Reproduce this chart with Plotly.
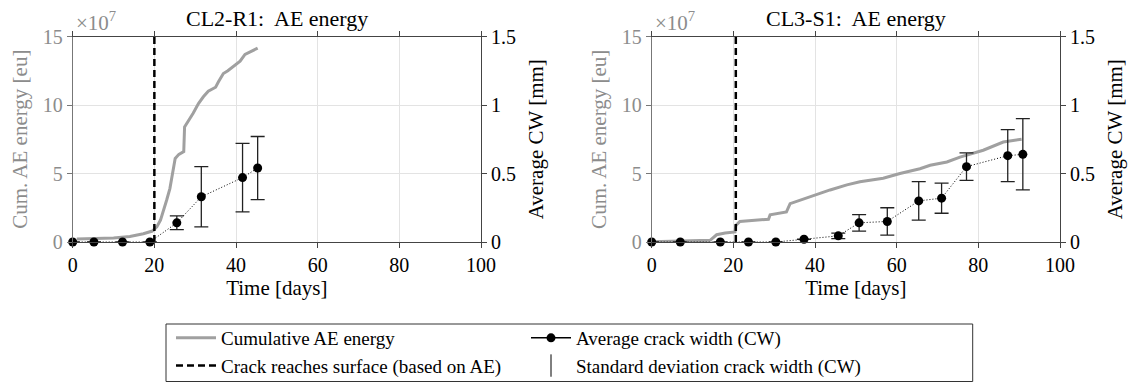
import plotly.graph_objects as go

# ---------------- data ----------------
# CL2-R1 (left)
ae_days_L = [1.0, 5, 10, 14, 17.3, 19.5, 20.6, 21.5, 22.3, 23.0, 23.8, 24.5, 25.1, 26.0, 27.2, 27.4,
             28.3, 29.5, 30.8, 32.0, 33.2, 34.4, 35.0, 35.7, 36.9, 38.0, 38.9, 41.0, 42.2, 43.5, 45.3]
ae_energy_L = [0.22, 0.25, 0.3, 0.4, 0.6, 0.8, 1.1, 1.6, 2.3, 3.05, 3.9, 5.0, 6.1, 6.4, 6.6, 8.4,
               8.8, 9.4, 10.1, 10.6, 11.0, 11.2, 11.3, 11.7, 12.3, 12.5, 12.7, 13.2, 13.7, 13.9, 14.15]  # x 1e7 eu
cw_days_L = [0, 5.2, 12.2, 18.9, 25.5, 31.5, 41.6, 45.3]
cw_mean_L = [0, 0, 0, 0, 0.14, 0.33, 0.47, 0.54]
cw_std_L = [None, None, None, None, 0.05, 0.22, 0.25, 0.23]
crack_day_L = 20.0

# CL3-S1 (right)
ae_days_R = [0, 5, 10, 14.3, 15.9, 18, 20.4, 20.6, 21.6, 24.9, 28.6, 29.0, 31.8, 33.0, 33.9, 36.3,
             39.6, 43.7, 47.8, 51.0, 56.7, 60.8, 65.7, 68.2, 72.3, 75.5, 81.2, 86.1, 90.6]
ae_energy_R = [0.02, 0.04, 0.07, 0.12, 0.53, 0.65, 0.73, 1.2, 1.5, 1.6, 1.66, 1.98, 2.1, 2.2, 2.8, 3.05,
               3.4, 3.8, 4.17, 4.4, 4.65, 5.0, 5.35, 5.6, 5.84, 6.2, 6.7, 7.3, 7.5]
cw_days_R = [0, 7.0, 16.8, 23.7, 30.4, 37.3, 45.7, 50.8, 57.7, 65.4, 71.0, 77.1, 87.2, 90.9]
cw_mean_R = [0, 0, 0, 0, 0, 0.02, 0.045, 0.14, 0.15, 0.30, 0.32, 0.55, 0.63, 0.64]
cw_std_R = [None, None, None, None, None, None, 0.02, 0.06, 0.10, 0.14, 0.11, 0.10, 0.19, 0.26]
crack_day_R = 20.6

titles = ["CL2-R1:  AE energy", "CL3-S1:  AE energy"]
x_ticks = [0, 20, 40, 60, 80, 100]
ae_ticks = [0, 5, 10, 15]
cw_ticks = [0, 0.5, 1, 1.5]
cw_ticktext = ["0", "0.5", "1", "1.5"]

# ---------------- style ----------------
FONT = "'Liberation Serif', Tinos, Times, serif"
GREY = "#a0a0a0"
GREY_TXT = "#8c8c8c"
AXC = "#444444"
GRID = "#e3e3e3"
W, H = 1131, 383
ML, MR = 60, 60
PW = W - ML - MR

def px_x(a, b):
    return [(a - ML) / PW, (b - ML) / PW]

ydom = [1 - 242 / H, 1 - 36.5 / H]
xdoms = [px_x(72.7, 481), px_x(651.7, 1060)]

fig = go.Figure()

panels = [
    (ae_days_L, ae_energy_L, cw_days_L, cw_mean_L, cw_std_L, crack_day_L),
    (ae_days_R, ae_energy_R, cw_days_R, cw_mean_R, cw_std_R, crack_day_R),
]

for i, (aed, aee, cwd, cwm, cws, crd) in enumerate(panels):
    xa = "x" if i == 0 else "x2"
    ya = "y" if i == 0 else "y3"
    yb = "y2" if i == 0 else "y4"
    first = i == 0
    fig.add_trace(go.Scatter(x=aed, y=aee, xaxis=xa, yaxis=ya, mode="lines",
                             line=dict(color=GREY, width=3), name="Cumulative AE energy",
                             showlegend=first, legendrank=1))
    fig.add_trace(go.Scatter(x=[crd, crd], y=[ae_ticks[0], ae_ticks[-1]], xaxis=xa, yaxis=ya,
                             mode="lines", line=dict(color="black", width=2.5, dash="7px,4px"),
                             name="Crack reaches surface (based on AE)", showlegend=first, legendrank=3))
    fig.add_trace(go.Scatter(x=cwd, y=cwm, xaxis=xa, yaxis=yb, mode="lines+markers",
                             line=dict(color="black", width=1, dash="1px,2px"),
                             marker=dict(color="black", size=9),
                             error_y=dict(type="data", array=cws, color="#222222", thickness=1.3, width=7),
                             cliponaxis=False, showlegend=False))

# legend-only entries
fig.add_trace(go.Scatter(x=[None], y=[None], xaxis="x", yaxis="y2", mode="lines+markers",
                         line=dict(color="black", width=1.5), marker=dict(color="black", size=9),
                         name="Average crack width (CW)", legendrank=2))
fig.add_trace(go.Scatter(x=[None], y=[None], xaxis="x", yaxis="y2", mode="markers",
                         marker=dict(symbol="line-ns-open", size=16, color="black",
                                     line=dict(color="black", width=1)),
                         name="Standard deviation crack width (CW)", legendrank=4))

tickfont = dict(family=FONT, size=20, color="black")

def xaxis_cfg(dom):
    return dict(domain=dom, range=[0, 100], tickvals=x_ticks, showgrid=True, gridcolor=GRID,
                showline=True, linecolor=AXC, linewidth=1, mirror="ticks", ticks="outside",
                ticklen=5, tickcolor=AXC, zeroline=False, tickfont=tickfont,
                title=dict(text="Time [days]", font=dict(family=FONT, size=21, color="black"), standoff=5))

def ae_cfg(xanchor):
    return dict(domain=ydom, anchor=xanchor, range=[0, 15], tickvals=ae_ticks, showgrid=True,
                gridcolor=GRID, showline=True, linecolor="#777777", linewidth=1, ticks="outside",
                ticklen=5, tickcolor="#777777", zeroline=False,
                tickfont=dict(family=FONT, size=20, color=GREY_TXT),
                title=dict(text="Cum. AE energy [eu]", font=dict(family=FONT, size=21, color=GREY_TXT),
                           standoff=9))

def cw_cfg(xanchor, over):
    return dict(domain=ydom, anchor=xanchor, overlaying=over, side="right", range=[0, 1.5],
                tickvals=cw_ticks, ticktext=cw_ticktext, showgrid=False, showline=True,
                linecolor=AXC, linewidth=1, ticks="outside", ticklen=5, tickcolor=AXC,
                zeroline=False, tickfont=tickfont,
                title=dict(text="Average CW [mm]", font=dict(family=FONT, size=21, color="black"),
                           standoff=13))

annotations = []
for xa, ya, t in [("x", "y", titles[0]), ("x2", "y3", titles[1])]:
    annotations.append(dict(text=t, xref=f"{xa} domain", yref=f"{ya} domain", x=0.5, y=1,
                            xanchor="center", yanchor="bottom", yshift=3, showarrow=False,
                            font=dict(family=FONT, size=22, color="black")))
    annotations.append(dict(text="×10<sup>7</sup>", xref=f"{xa} domain", yref=f"{ya} domain", x=0, y=1,
                            xanchor="left", yanchor="bottom", xshift=1, yshift=-1, showarrow=False,
                            font=dict(family=FONT, size=21, color=GREY_TXT)))

# legend frame
shapes = [dict(type="rect", xref="paper", yref="paper",
               x0=(166 - ML) / PW, x1=(972.7 - ML) / PW, y0=1 - 381.5 / H, y1=1 - 324 / H,
               line=dict(color="#333333", width=1), fillcolor="rgba(0,0,0,0)", layer="above")]

fig.update_layout(
    width=W, height=H,
    margin=dict(l=ML, r=MR, t=0, b=0, autoexpand=False),
    paper_bgcolor="white", plot_bgcolor="white",
    font=dict(family=FONT, size=20, color="black"),
    xaxis=xaxis_cfg(xdoms[0]), xaxis2=xaxis_cfg(xdoms[1]),
    yaxis=ae_cfg("x"), yaxis2=cw_cfg("x", "y"),
    yaxis3=ae_cfg("x2"), yaxis4=cw_cfg("x2", "y3"),
    annotations=annotations,
    shapes=shapes,
    legend=dict(orientation="h", x=(171 - ML) / PW, y=1 - 319 / H, xanchor="left", yanchor="top",
                entrywidth=300, entrywidthmode="pixels", borderwidth=0,
                bgcolor="rgba(0,0,0,0)", font=dict(family=FONT, size=19, color="black"),
                tracegroupgap=0, itemwidth=40),
)

fig.write_html("out.html")
